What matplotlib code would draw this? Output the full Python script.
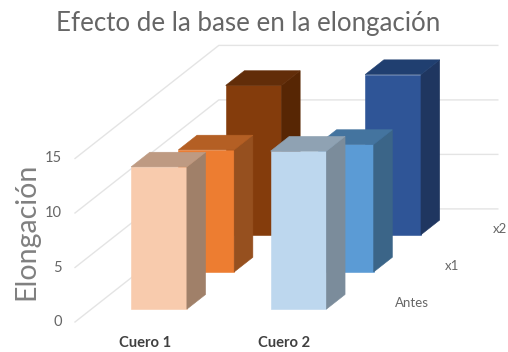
import matplotlib
matplotlib.use('Agg')
import matplotlib.pyplot as plt
from matplotlib.patches import Polygon

plt.rcParams['font.family'] = ['Lato', 'DejaVu Sans']

# Data
categories = ['Cuero 1', 'Cuero 2']
series_names = ['Antes', 'x1', 'x2']
antes = [13.05, 14.5]
x1 = [11.2, 11.7]
x2 = [13.7, 14.7]
y_ticks = [0, 5, 10, 15]

front_colors = ['#F8CBAD', '#ED7D31', '#843C0C']
top_colors = ['#BE9A82', '#B45F24', '#622D09']
side_colors = ['#A08069', '#96501F', '#572604']
front_colors2 = ['#BDD7EE', '#5B9BD5', '#2F5597']
top_colors2 = ['#8FA2B3', '#44749F', '#203F70']
side_colors2 = ['#7B8C9B', '#3B6588', '#1F3660']

# Oblique projection of the chart box, in pixels
X0, Y0 = 75, 322        # front left corner of the floor
CAT_W = 139.5           # width of one category
ROW_DX, ROW_DY = 47.3, -37.2   # shift of one depth row
DEPTH = 3.04            # depth of the floor in rows
UNIT = 10.9             # pixels per value unit
BAR_W = 0.40
BAR_X = 0.285
BAR_D = 0.395
BAR_Z = 0.345


def project(cat, row, value):
    return (X0 + cat * CAT_W + row * ROW_DX, Y0 + row * ROW_DY - value * UNIT)


fig = plt.figure(figsize=(5.08, 3.52), dpi=100)
ax = fig.add_axes([0, 0, 1, 1])
ax.set_xlim(0, 508)
ax.set_ylim(352, 0)
ax.axis('off')

grid_color = '#E4E4E4'
for t in y_ticks:
    a = project(0, 0, t)
    b = project(0, DEPTH, t)
    c = project(2, DEPTH, t)
    ax.plot([a[0], b[0], c[0]], [a[1], b[1], c[1]], color=grid_color, lw=1.0, zorder=1)
    ax.text(a[0] - 13, a[1], str(t), color='#666666', fontsize=10.5, ha='right', va='center')


def draw_bar(cat, row, value, front, top, side, z):
    c = cat + BAR_X
    r = row + BAR_Z
    p = lambda i, j, v: project(c + i * BAR_W, r + j * BAR_D, v)
    ax.add_patch(Polygon([p(0, 0, 0), p(1, 0, 0), p(1, 0, value), p(0, 0, value)],
                         fc=front, ec=front, lw=0.4, zorder=z))
    ax.add_patch(Polygon([p(1, 0, 0), p(1, 1, 0), p(1, 1, value), p(1, 0, value)],
                         fc=side, ec=side, lw=0.4, zorder=z))
    ax.add_patch(Polygon([p(0, 0, value), p(1, 0, value), p(1, 1, value), p(0, 1, value)],
                         fc=top, ec=top, lw=0.4, zorder=z))


rows = [antes, x1, x2]
z = 10
for row in [2, 1, 0]:
    for cat in [0, 1]:
        if cat == 0:
            draw_bar(cat, row, rows[row][cat], front_colors[row], top_colors[row], side_colors[row], z)
        else:
            draw_bar(cat, row, rows[row][cat], front_colors2[row], top_colors2[row], side_colors2[row], z)
        z += 1

ax.text(248, 24, 'Efecto de la base en la elongación', color='#666666', fontsize=18.6,
        ha='center', va='center')
ax.text(26, 231, 'Elongación', color='#808080', fontsize=20.5, rotation=90, ha='center', va='center')

for i, name in enumerate(categories):
    ax.text(145 + i * CAT_W, 343, name, color='#404040', fontsize=10.6, fontweight='bold',
            ha='center', va='center')

series_pos = [(412, 303), (452, 266), (500, 229)]
for name, pos in zip(series_names, series_pos):
    ax.text(pos[0], pos[1], name, color='#666666', fontsize=9.5, ha='center', va='center')

fig.savefig('out.png', dpi=100)
